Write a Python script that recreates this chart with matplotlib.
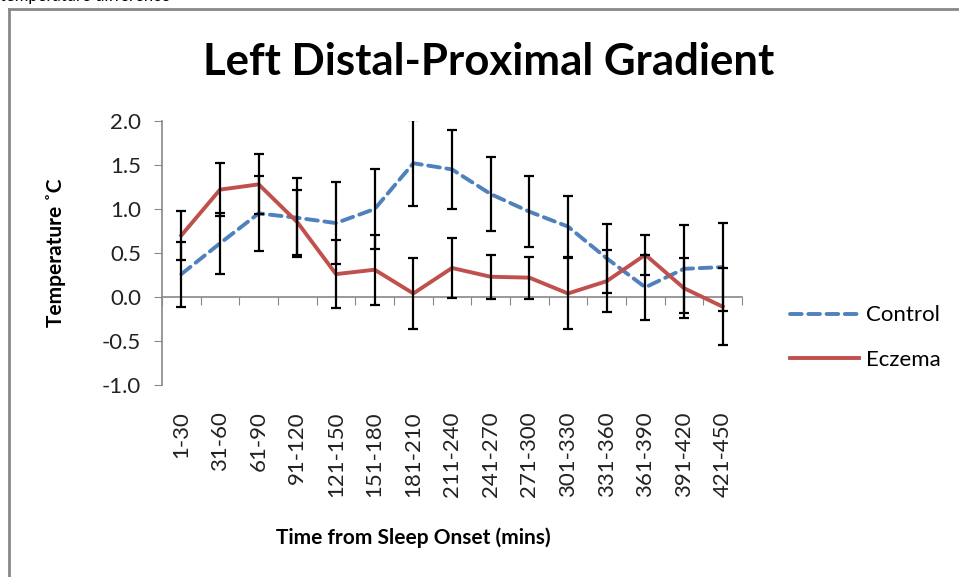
import matplotlib.pyplot as plt
from matplotlib.lines import Line2D

plt.rcParams['font.family'] = ['Lato', 'DejaVu Sans']

categories = ['1-30', '31-60', '61-90', '91-120', '121-150', '151-180', '181-210',
              '211-240', '241-270', '271-300', '301-330', '331-360', '361-390',
              '391-420', '421-450']

control = [0.26, 0.61, 0.95, 0.90, 0.84, 1.00, 1.52, 1.45, 1.17, 0.97, 0.80, 0.44, 0.11, 0.32, 0.34]
control_err = [0.37, 0.35, 0.43, 0.45, 0.47, 0.45, 0.49, 0.45, 0.42, 0.40, 0.35, 0.39, 0.37, 0.50, 0.50]

eczema = [0.70, 1.22, 1.28, 0.85, 0.26, 0.31, 0.04, 0.33, 0.23, 0.22, 0.04, 0.18, 0.48, 0.10, -0.11]
eczema_err = [0.28, 0.30, 0.34, 0.37, 0.39, 0.40, 0.40, 0.34, 0.25, 0.24, 0.40, 0.35, 0.23, 0.34, 0.44]

fig = plt.figure(figsize=(9.59, 5.77), dpi=100)
ax = fig.add_axes([162 / 959, 1 - 385 / 577, 580 / 959, 264 / 577])

x = list(range(len(categories)))
ax.plot(x, control, color='#4F81BD', lw=2.8, ls=(0, (3.0, 1.7)), dash_capstyle='round',
        label='Control', zorder=3)
ax.plot(x, eczema, color='#C0504D', lw=2.8, label='Eczema', zorder=3)
ax.errorbar(x, control, yerr=control_err, fmt='none', ecolor='black', elinewidth=1.6,
            capsize=3.8, capthick=1.6, zorder=4)
ax.errorbar(x, eczema, yerr=eczema_err, fmt='none', ecolor='black', elinewidth=1.6,
            capsize=3.8, capthick=1.6, zorder=4)

ax.set_xlim(-0.5, len(categories) - 0.5)
ax.set_ylim(-1.0, 2.0)
yticks = [-1.0, -0.5, 0.0, 0.5, 1.0, 1.5, 2.0]
ax.set_yticks(yticks)
ax.set_yticklabels(['%.1f' % v for v in yticks])
ax.tick_params(axis='y', labelsize=16, length=6, color='#888888', pad=9, labelcolor='#222222')

ax.set_xticks(x)
ax.set_xticklabels(categories, rotation=90, va='top', ha='center')
ax.tick_params(axis='x', length=0, pad=19, labelsize=16, labelcolor='#222222')

for side in ['top', 'right', 'bottom']:
    ax.spines[side].set_visible(False)
ax.spines['left'].set_color('#888888')
ax.spines['left'].set_linewidth(1.2)

# category axis line crossing at zero, ticks between categories
sec = ax.secondary_xaxis(1 / 3)
sec.set_xticks([i - 0.5 for i in range(len(categories) + 1)])
sec.set_xticklabels([])
sec.tick_params(length=6, color='#888888', direction='out')
sec.spines['bottom'].set_color('#888888')
sec.spines['bottom'].set_linewidth(1.2)

ax.set_ylabel('Temperature ˚C', fontsize=15, fontweight='bold')
ax.yaxis.set_label_coords(-0.166, 0.5)
ax.set_xlabel('Time from Sleep Onset (mins)', fontsize=15, fontweight='bold')
ax.xaxis.set_label_coords(0.433, -0.54)

fig.text(489 / 959, 1 - 62 / 577, 'Left Distal-Proximal Gradient', fontsize=31.5,
         fontweight='bold', ha='center', va='center')

ax.legend(loc='center left', bbox_to_anchor=(770 / 959, 1 - 337.5 / 577),
          bbox_transform=fig.transFigure, frameon=False, fontsize=16,
          handlelength=3.1, handletextpad=0.3, labelspacing=1.1)

# frame of the surrounding chart object and clipped caption above it
fig.add_artist(Line2D([9 / 959, 9 / 959], [0, 1 - 9 / 577], color='#888888', lw=2))
fig.add_artist(Line2D([9 / 959, 958 / 959], [1 - 9 / 577, 1 - 9 / 577], color='#888888', lw=2))
fig.text(0.0, 1 - 1.5 / 577, 'temperature difference', fontsize=12, va='baseline', ha='left')

fig.savefig('out.png', dpi=100)
